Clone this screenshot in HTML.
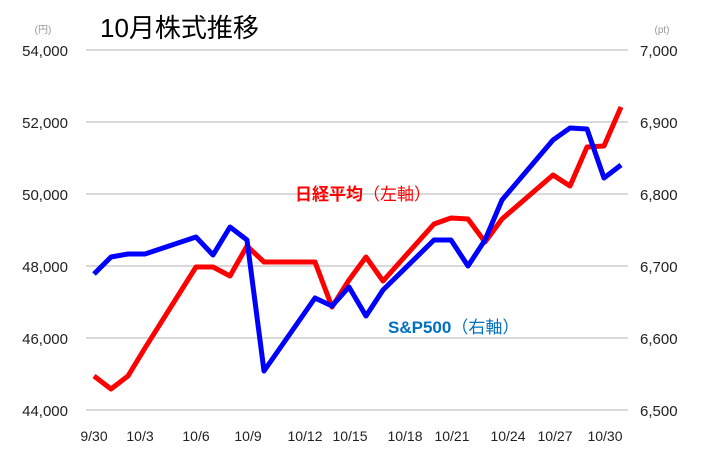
<!DOCTYPE html>
<html><head><meta charset="utf-8"><style>
html,body{margin:0;padding:0;background:#fff;}
svg{display:block;font-family:"Liberation Sans","Noto Sans CJK JP",sans-serif;}
</style></head><body>
<svg width="724" height="469" viewBox="0 0 724 469" xmlns="http://www.w3.org/2000/svg">
<rect width="724" height="469" fill="#fff"/>
<g stroke="#d9d9d9" stroke-width="2">
<line x1="86" y1="50" x2="628" y2="50"/>
<line x1="86" y1="122" x2="628" y2="122"/>
<line x1="86" y1="194" x2="628" y2="194"/>
<line x1="86" y1="266" x2="628" y2="266"/>
<line x1="86" y1="338" x2="628" y2="338"/>
<line x1="86" y1="410" x2="628" y2="410"/>
</g>
<text x="100" y="37" font-size="26" fill="#000">10月株式推移</text>
<text x="43" y="33" font-size="10" fill="#999" text-anchor="middle">(円)</text>
<text x="662" y="33" font-size="10" fill="#999" text-anchor="middle">(pt)</text>
<g font-size="15" fill="#222" text-anchor="end">
<text x="68" y="56">54,000</text>
<text x="68" y="128">52,000</text>
<text x="68" y="200">50,000</text>
<text x="68" y="272">48,000</text>
<text x="68" y="344">46,000</text>
<text x="68" y="416">44,000</text>
</g>
<g font-size="15" fill="#222" text-anchor="start">
<text x="640" y="56">7,000</text>
<text x="640" y="128">6,900</text>
<text x="640" y="200">6,800</text>
<text x="640" y="272">6,700</text>
<text x="640" y="344">6,600</text>
<text x="640" y="416">6,500</text>
</g>
<g font-size="14" fill="#222" text-anchor="middle">
<text x="94" y="441">9/30</text>
<text x="140" y="441">10/3</text>
<text x="196" y="441">10/6</text>
<text x="248" y="441">10/9</text>
<text x="305" y="441">10/12</text>
<text x="350" y="441">10/15</text>
<text x="405" y="441">10/18</text>
<text x="452" y="441">10/21</text>
<text x="508" y="441">10/24</text>
<text x="555" y="441">10/27</text>
<text x="605" y="441">10/30</text>
</g>
<polyline fill="none" stroke="#ff0000" stroke-width="5" stroke-linejoin="round" points="94,376 111,389 128,376 145,348 196,267 213,267 230,276 247,246 264,262 315,262 332,307 349,280 366,257 383,281 434,224 451,218 468,219 485,242 502,219 553,175 570,186 587,147 604,146 621,107"/>
<polyline fill="none" stroke="#0000ff" stroke-width="5" stroke-linejoin="round" points="94,274 111,257 128,254 145,254 196,237 213,255 230,227 247,240 264,371 315,298 332,306 349,287 366,316 383,290 434,240 451,240 468,266 485,240 502,200 553,140 570,128 587,129 604,178 621,165"/>
<text x="295" y="200" font-size="17" font-weight="bold" fill="#ff0000">日経平均<tspan font-weight="normal">（左軸）</tspan></text>
<text x="388" y="333" font-size="17" font-weight="bold" fill="#0070c0">S&amp;P500<tspan font-weight="normal">（右軸）</tspan></text>
</svg>
</body></html>
